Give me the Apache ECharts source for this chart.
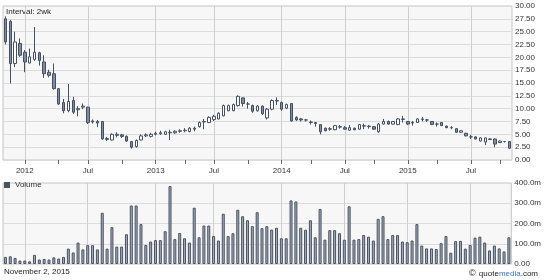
<!DOCTYPE html>
<html><head><meta charset="utf-8">
<script src="https://cdn.jsdelivr.net/npm/echarts@6/dist/echarts.min.js"></script>
<style>html,body{margin:0;padding:0;background:#fff}#c{width:544px;height:280px}</style>
</head><body><div id="c"></div>
<script>
// biweekly periods
const dates = [
'2011-11-07','2011-11-21','2011-12-05','2011-12-19',
'2012-01-02','2012-01-16','2012-01-30','2012-02-13','2012-02-27','2012-03-12','2012-03-26','2012-04-09','2012-04-23','2012-05-07','2012-05-21','2012-06-04','2012-06-18','2012-07-02','2012-07-16','2012-07-30','2012-08-13','2012-08-27','2012-09-10','2012-09-24','2012-10-08','2012-10-22','2012-11-05','2012-11-19','2012-12-03','2012-12-17','2012-12-31',
'2013-01-14','2013-01-28','2013-02-11','2013-02-25','2013-03-11','2013-03-25','2013-04-08','2013-04-22','2013-05-06','2013-05-20','2013-06-03','2013-06-17','2013-07-01','2013-07-15','2013-07-29','2013-08-12','2013-08-26','2013-09-09','2013-09-23','2013-10-07','2013-10-21','2013-11-04','2013-11-18','2013-12-02','2013-12-16','2013-12-30',
'2014-01-13','2014-01-27','2014-02-10','2014-02-24','2014-03-10','2014-03-24','2014-04-07','2014-04-21','2014-05-05','2014-05-19','2014-06-02','2014-06-16','2014-06-30','2014-07-14','2014-07-28','2014-08-11','2014-08-25','2014-09-08','2014-09-22','2014-10-06','2014-10-20','2014-11-03','2014-11-17','2014-12-01','2014-12-15','2014-12-29',
'2015-01-12','2015-01-26','2015-02-09','2015-02-23','2015-03-09','2015-03-23','2015-04-06','2015-04-20','2015-05-04','2015-05-18','2015-06-01','2015-06-15','2015-06-29','2015-07-13','2015-07-27','2015-08-10','2015-08-24','2015-09-07','2015-09-21','2015-10-05','2015-10-19','2015-11-02'
];
const opens = [
27.5,27.0,18.8,22.7,21.0,18.9,19.6,20.9,19.1,17.1,
16.8,13.9,11.2,9.6,11.6,9.8,10.3,10.3,7.6,7.5,
7.5,4.0,3.9,4.8,4.9,4.6,3.6,2.6,3.9,4.7,
4.6,5.0,5.1,5.0,5.4,5.3,5.6,5.7,5.55,6.2,
6.5,7.4,7.3,7.9,8.0,8.6,9.6,9.6,10.6,12.1,
10.9,10.6,9.6,10.5,8.2,9.9,11.5,11.2,10.1,11.0,
8.3,8.0,7.8,7.3,7.3,6.9,6.2,6.0,5.9,6.4,
6.3,5.8,6.2,6.0,6.6,6.5,6.5,5.5,7.0,7.5,
7.0,6.9,7.9,7.5,7.2,7.3,7.9,7.8,7.5,7.0,
7.3,6.6,6.3,6.1,5.4,5.2,4.5,4.5,3.7,3.5,
4.1,4.1,3.4,3.6,3.6];
const closes = [
23.0,18.8,23.0,20.4,19.1,20.1,21.0,19.4,16.8,16.5,
13.9,10.9,9.6,11.4,9.3,10.0,10.5,7.3,7.4,7.2,
4.1,4.2,5.0,5.0,4.6,3.7,2.5,3.8,4.7,4.9,
5.0,5.2,5.3,5.5,5.3,5.6,5.7,5.8,6.2,6.0,
7.3,7.5,8.3,8.5,9.1,10.6,10.6,10.8,12.4,11.0,
10.9,9.5,10.5,9.0,9.9,11.6,11.6,9.9,10.8,7.6,
7.8,7.8,7.8,7.4,7.1,5.5,5.7,6.1,6.7,6.5,
6.0,6.3,5.9,6.9,6.7,6.6,6.0,7.0,7.5,7.0,
7.5,8.0,8.0,7.0,7.3,8.0,8.0,7.8,6.9,7.0,
6.7,6.3,6.3,5.4,5.7,4.7,4.5,4.1,4.3,4.3,
4.0,3.1,3.7,3.6,2.3];
const lows = [
22.5,14.9,18.1,20.1,17.1,18.8,19.3,18.4,16.0,16.1,
13.7,10.7,9.1,9.3,9.0,8.5,9.9,7.0,7.1,6.4,
4.0,3.7,3.8,4.4,4.3,3.5,2.2,2.4,3.8,4.5,
4.4,4.8,4.9,4.9,3.9,5.1,5.3,5.4,5.4,5.6,
6.3,6.0,7.2,7.6,7.9,8.5,9.5,9.5,10.4,10.4,
10.0,9.2,9.4,8.8,7.9,9.7,10.7,9.6,9.9,7.5,
7.6,7.5,7.5,6.9,6.5,5.0,5.6,5.7,5.8,6.1,
5.9,5.7,5.8,5.9,6.0,6.1,5.9,5.3,6.9,6.9,
6.9,6.8,7.3,6.8,6.7,7.2,7.5,7.4,6.8,6.5,
6.6,6.2,6.0,5.3,5.3,4.6,4.1,4.0,3.6,2.9,
3.9,2.5,3.3,3.4,2.2];
const highs = [
28.0,27.3,25.0,23.7,21.4,21.7,25.9,21.1,20.4,17.6,
18.8,14.0,11.9,14.8,12.3,10.5,11.0,10.4,7.9,7.8,
7.6,4.5,5.2,5.4,5.1,4.8,3.7,4.0,5.0,5.2,
5.3,5.5,5.7,5.7,5.9,5.8,6.0,6.2,6.4,6.5,
7.5,8.0,8.5,8.8,9.3,10.8,10.8,11.0,12.6,12.2,
11.3,10.8,10.7,10.6,10.1,11.8,12.2,11.4,11.0,11.1,
8.5,8.2,8.0,7.7,7.4,7.0,6.3,6.4,6.8,6.8,
6.6,6.8,6.3,7.0,7.1,6.8,6.6,7.2,8.0,7.7,
7.6,8.2,8.6,7.6,7.6,8.1,8.4,8.0,7.6,7.3,
7.4,6.7,6.6,6.2,5.8,5.3,4.9,4.6,4.4,4.4,
4.2,4.2,3.8,3.7,3.7];
// volume in millions
const volumes = [
35,38,30,17,17,13,45,22,25,22,
33,27,35,76,57,106,72,93,93,72,
253,76,182,86,86,147,289,289,197,94,
111,118,118,162,385,123,153,127,106,278,
132,190,190,138,116,248,138,152,268,236,
216,187,256,177,187,170,179,127,127,314,
309,179,169,216,132,272,120,167,167,152,
120,285,120,123,143,135,116,223,236,123,
143,143,111,108,116,197,91,77,77,74,
103,138,56,113,114,76,94,130,135,106,
67,91,77,62,132];
const intervalLabel = 'Interval: 2wk';
const volumeLabel = 'Volume';
const dateLabel = 'November 2, 2015';

const FONT = '"Liberation Sans", Arial, sans-serif';
const monthOf = s => +s.slice(5, 7);
const isQuarterStart = i => i > 0 && monthOf(dates[i]) !== monthOf(dates[i - 1]) && (monthOf(dates[i]) - 1) % 3 === 0;
const isHalfStart = i => isQuarterStart(i) && (monthOf(dates[i]) === 1 || monthOf(dates[i]) === 7);

const gridLineV = { show: true, alignWithLabel: true, interval: (i) => isHalfStart(i), lineStyle: { color: '#cfcfcf', width: 1 } };
const gridLineH = { show: true, lineStyle: { color: '#dcdcdc', width: 1 } };
const lblStyle = { fontSize: 8, color: '#333', fontFamily: FONT };

const chart = echarts.init(document.getElementById('c'), null, { renderer: 'canvas' });
chart.setOption({
  animation: false,
  backgroundColor: '#ffffff',
  grid: [
    { left: 3, right: 32, top: 6, height: 154, show: true, backgroundColor: '#f7f7f7', borderColor: '#c4c4c4', borderWidth: 1 },
    { left: 3, right: 32, top: 183, height: 81, show: true, backgroundColor: '#f7f7f7', borderColor: '#c4c4c4', borderWidth: 1 }
  ],
  xAxis: [
    { type: 'category', gridIndex: 0, data: dates, boundaryGap: true,
      axisLine: { show: false },
      axisTick: { show: true, alignWithLabel: true, interval: (i) => isQuarterStart(i), length: 4, lineStyle: { color: '#666' } },
      axisLabel: Object.assign({ interval: (i) => isHalfStart(i), margin: 7,
        formatter: v => monthOf(v) === 1 ? v.slice(0, 4) : 'Jul' }, lblStyle),
      splitLine: gridLineV },
    { type: 'category', gridIndex: 1, data: dates, boundaryGap: true,
      axisLine: { show: false }, axisTick: { show: false }, axisLabel: { show: false },
      splitLine: gridLineV }
  ],
  yAxis: [
    { type: 'value', gridIndex: 0, position: 'right', min: 0, max: 30, interval: 2.5,
      axisLine: { show: false }, axisTick: { show: false },
      axisLabel: Object.assign({ margin: 3, formatter: v => v.toFixed(2) }, lblStyle),
      splitLine: gridLineH },
    { type: 'value', gridIndex: 1, position: 'right', min: 0, max: 400, interval: 100,
      axisLine: { show: false }, axisTick: { show: false },
      axisLabel: Object.assign({ margin: 3, formatter: v => v === 0 ? '0.00' : v.toFixed(1) + 'm' }, lblStyle),
      splitLine: gridLineH }
  ],
  legend: {
    data: [volumeLabel], left: 4, top: 181, icon: 'rect', itemWidth: 6, itemHeight: 6, itemGap: 3,
    selectedMode: false, padding: 0,
    itemStyle: { color: '#4a5262', borderWidth: 0 },
    textStyle: { fontSize: 8, color: '#333', fontFamily: FONT, padding: [0, 0, 0, 0] }
  },
  series: [
    { type: 'candlestick', xAxisIndex: 0, yAxisIndex: 0, barWidth: 3, clip: false,
      data: dates.map((d, i) => [opens[i], closes[i], lows[i], highs[i]]),
      itemStyle: { color: '#ffffff', color0: '#7f8ba1', borderColor: '#465064', borderColor0: '#465064', borderWidth: 1 } },
    { type: 'bar', name: volumeLabel, xAxisIndex: 1, yAxisIndex: 1, barWidth: 3, data: volumes,
      itemStyle: { color: '#a2abbc', borderColor: '#4a5262', borderWidth: 1 } }
  ],
  graphic: [
    { type: 'text', left: 6, top: 8, style: { text: intervalLabel, fontSize: 8, fill: '#222', fontFamily: FONT } },
    { type: 'text', left: 4, top: 268, style: { text: dateLabel, fontSize: 8, fill: '#222', fontFamily: FONT } },
    { type: 'text', right: 6, top: 268, style: {
        text: '{c|©} {a|quote}{b|media}{a|.com}',
        rich: {
          c: { fontSize: 9, fill: '#222', fontFamily: FONT },
          a: { fontSize: 8, fill: '#222', fontFamily: FONT },
          b: { fontSize: 8, fill: '#3a72c9', fontFamily: FONT }
        } } }
  ]
});
</script>
</body></html>
